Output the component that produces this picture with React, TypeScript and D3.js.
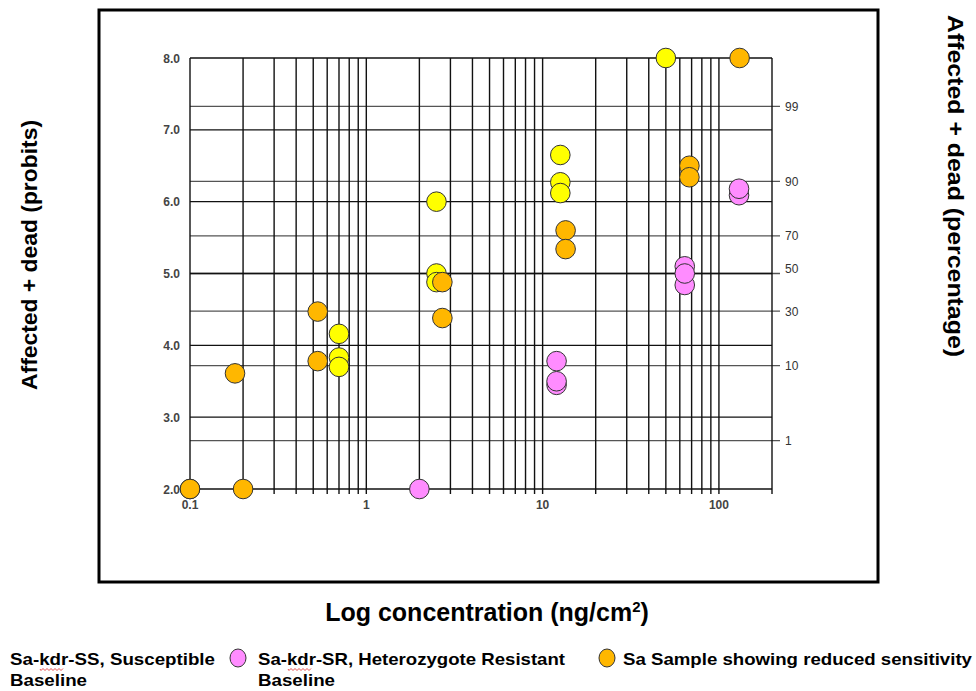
import React from 'react';
import * as d3 from 'd3';

// concentration (ng/cm2) and response (probits) per group
const ssConc = [0.1, 0.7, 0.7, 0.7, 2.5, 2.5, 2.5, 12.6, 12.6, 12.6, 50];
const ssProbit = [2.0, 4.16, 3.83, 3.7, 6.0, 5.0, 4.88, 6.65, 6.27, 6.12, 8.0];

const srConc = [2.0, 12, 12, 12, 64, 64, 64, 130, 130];
const srProbit = [2.0, 3.78, 3.45, 3.5, 4.84, 5.1, 5.0, 6.09, 6.18];

const saConc = [0.1, 0.2, 0.18, 0.53, 0.53, 2.7, 2.7, 13.5, 13.5, 68, 68, 131];
const saProbit = [2.0, 2.0, 3.61, 4.47, 3.78, 4.88, 4.38, 5.6, 5.34, 6.5, 6.34, 8.0];

const probitTicks = [2, 3, 4, 5, 6, 7, 8];
const pctTicks = [1, 10, 30, 50, 70, 90, 99];
const decadeLabels = [0.1, 1, 10, 100];

const colors = { ss: '#ffff00', sr: '#ff8cff', sa: '#ffb700' };

// inverse normal CDF (Acklam) to place the percentage axis on the probit scale
function qnorm(p: number) {
  const a = [-39.6968302866538, 220.946098424521, -275.928510446969, 138.357751867269, -30.6647980661472, 2.50662827745924];
  const b = [-54.4760987982241, 161.585836858041, -155.698979859887, 66.8013118877197, -13.2806815528857];
  const c = [-0.00778489400243029, -0.322396458041136, -2.40075827716184, -2.54973253934373, 4.37466414146497, 2.93816398269878];
  const d = [0.00778469570904146, 0.32246712907004, 2.445134137143, 3.75440866190742];
  const pl = 0.02425;
  if (p < pl) {
    const q = Math.sqrt(-2 * Math.log(p));
    return (((((c[0] * q + c[1]) * q + c[2]) * q + c[3]) * q + c[4]) * q + c[5]) / ((((d[0] * q + d[1]) * q + d[2]) * q + d[3]) * q + 1);
  }
  if (p > 1 - pl) {
    const q = Math.sqrt(-2 * Math.log(1 - p));
    return -(((((c[0] * q + c[1]) * q + c[2]) * q + c[3]) * q + c[4]) * q + c[5]) / ((((d[0] * q + d[1]) * q + d[2]) * q + d[3]) * q + 1);
  }
  const q = p - 0.5;
  const r = q * q;
  return ((((((a[0] * r + a[1]) * r + a[2]) * r + a[3]) * r + a[4]) * r + a[5]) * q) / (((((b[0] * r + b[1]) * r + b[2]) * r + b[3]) * r + b[4]) * r + 1);
}

const App = () => {
  const width = 976;
  const height = 691;
  const left = 190, right = 772, top = 58, bottom = 489;

  const x = d3.scaleLog().domain([0.1, 200]).range([left, right]);
  const y = d3.scaleLinear().domain([2, 8]).range([bottom, top]);

  // minor gridlines 0.1..0.9, 1..9, 10..90, 100, 200
  const vLines: number[] = [];
  [0.1, 1, 10, 100].forEach((dec) => {
    for (let k = 1; k <= 9; k++) {
      const v = +(dec * k).toPrecision(3);
      if (v <= 200) vLines.push(v);
    }
  });

  const font = 'Arial, "Liberation Sans", sans-serif';

  const series = [
    { key: 'ss', conc: ssConc, probit: ssProbit },
    { key: 'sr', conc: srConc, probit: srProbit },
    { key: 'sa', conc: saConc, probit: saProbit },
  ];

  const squiggle = (x0: number, y0: number, w: number) => {
    let p = `M${x0},${y0}`;
    for (let i = 0; i < w; i += 2) p += ` L${x0 + i + 1},${y0 + (i % 4 === 0 ? 1.5 : -0.5)}`;
    return p;
  };

  return (
    <div style={{ position: 'absolute', left: 0, top: 0 }}>
      <svg width={width} height={height} style={{ display: 'block', background: '#fff' }}>
        <rect x={99} y={10} width={779} height={572} fill="none" stroke="#000" strokeWidth={3} />

        {/* percentage gridlines */}
        {pctTicks.map((p) => {
          const yy = y(5 + qnorm(p / 100));
          return (
            <g key={'p' + p}>
              <line x1={left} x2={right + 8} y1={yy} y2={yy} stroke="#555" strokeWidth={1.3} />
              <text x={785} y={yy + (p === 50 ? -1 : 4.5)} fontSize={12} fontFamily={font} fill="#333">{p}</text>
            </g>
          );
        })}

        {/* probit gridlines */}
        {probitTicks.map((t) => (
          <g key={'y' + t}>
            <line x1={left} x2={right} y1={y(t)} y2={y(t)} stroke="#111" strokeWidth={1.4} />
            <text x={180} y={y(t) + 4.5} textAnchor="end" fontSize={12} fontWeight="bold" fontFamily={font} fill="#444">{t.toFixed(1)}</text>
          </g>
        ))}

        {/* concentration gridlines */}
        {vLines.map((v) => (
          <line key={'x' + v} x1={x(v)} x2={x(v)} y1={top} y2={bottom + 5} stroke="#111" strokeWidth={1.4} />
        ))}
        {decadeLabels.map((v) => (
          <text key={'xl' + v} x={x(v)} y={509} textAnchor="middle" fontSize={12} fontWeight="bold" fontFamily={font} fill="#444">{v}</text>
        ))}

        {/* points */}
        {series.map((s) =>
          s.conc.map((c, i) => (
            <circle key={s.key + i} cx={x(c)} cy={y(s.probit[i])} r={9.8}
              fill={(colors as any)[s.key]} stroke="#333" strokeWidth={1} />
          ))
        )}

        {/* axis titles */}
        <text transform="translate(37,255) rotate(-90)" textAnchor="middle" fontSize={22} fontWeight="bold" fontFamily={font}
          textLength={270} lengthAdjust="spacingAndGlyphs">Affected + dead (probits)</text>
        <text transform="translate(948,186) rotate(90)" textAnchor="middle" fontSize={22} fontWeight="bold" fontFamily={font}
          textLength={342} lengthAdjust="spacingAndGlyphs">Affected + dead (percentage)</text>
        <text x={487} y={621} textAnchor="middle" fontSize={25} fontWeight="bold" fontFamily={font}>
          Log concentration (ng/cm<tspan fontSize={15} dy={-9}>2</tspan><tspan dy={9}>)</tspan>
        </text>

        {/* legend */}
        <g fontFamily={font} fontSize={17} fontWeight="bold">
          <text x={10} y={665} textLength={205} lengthAdjust="spacingAndGlyphs">Sa-kdr-SS, Susceptible</text>
          <text x={10} y={686} textLength={77} lengthAdjust="spacingAndGlyphs">Baseline</text>
          <path d={squiggle(40, 669, 24)} fill="none" stroke="#d22" strokeWidth={0.8} />

          <ellipse cx={238} cy={658} rx={8} ry={9} fill={colors.sr} stroke="#333" />
          <text x={258} y={665} textLength={307} lengthAdjust="spacingAndGlyphs">Sa-kdr-SR, Heterozygote Resistant</text>
          <text x={258} y={686} textLength={77} lengthAdjust="spacingAndGlyphs">Baseline</text>
          <path d={squiggle(288, 669, 24)} fill="none" stroke="#d22" strokeWidth={0.8} />

          <ellipse cx={607} cy={658} rx={8} ry={9} fill={colors.sa} stroke="#333" />
          <text x={623} y={665} textLength={349} lengthAdjust="spacingAndGlyphs">Sa Sample showing reduced sensitivity</text>
        </g>
      </svg>
    </div>
  );
};

export default App;
